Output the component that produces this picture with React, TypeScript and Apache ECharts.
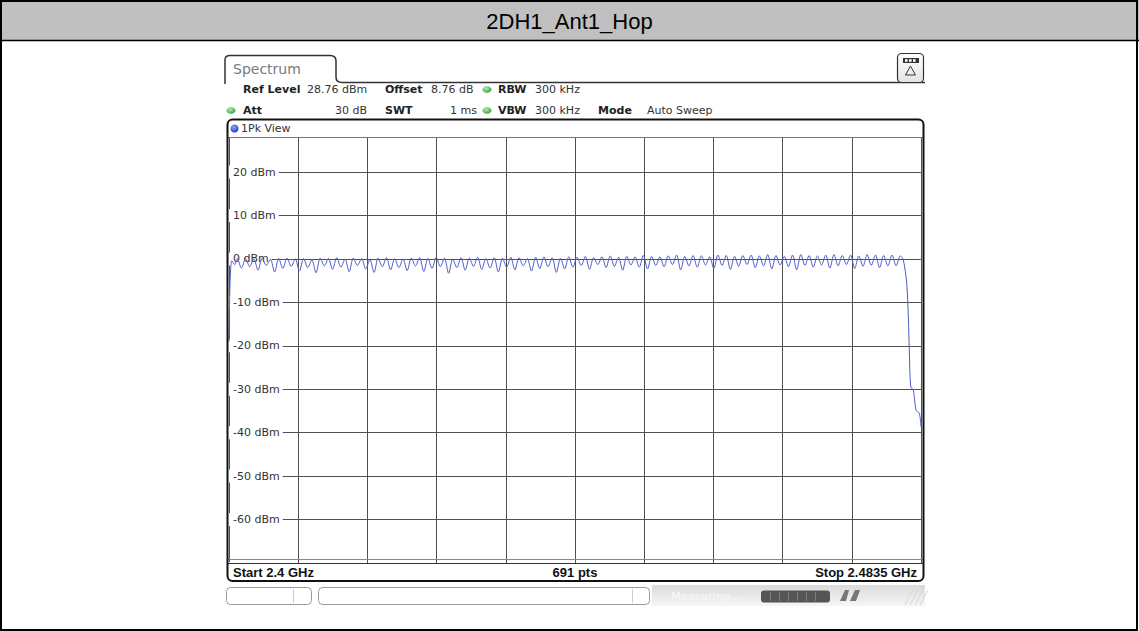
import React, { useEffect, useRef } from "react";
import * as echarts from "echarts";

// ---------- data ----------
const TITLE = "2DH1_Ant1_Hop";
const START_FREQ = 2400; // MHz
const STOP_FREQ = 2483.5; // MHz
const REF_LEVEL = 28.76; // dBm (top of screen)
const Y_MIN = -70; // dBm (bottom grid line)
const Y_STEP = 10;
const Y_LABEL_VALUES = [20, 10, 0, -10, -20, -30, -40, -50, -60];
const X_DIVISIONS = 10;

const INFO_ROW1 = ["Ref Level", "28.76 dBm", "Offset", "8.76 dB", "RBW", "300 kHz"];
const INFO_ROW2 = ["Att", "30 dB", "SWT", "1 ms", "VBW", "300 kHz", "Mode", "Auto Sweep"];
const START_LABEL = "Start 2.4 GHz";
const POINTS_LABEL = "691 pts";
const STOP_LABEL = "Stop 2.4835 GHz";
const VIEW_LABEL = "1Pk View";
const TAB_LABEL = "Spectrum";

// trace: rising edge at band start
const LEAD_IN_FREQ = [2400.0, 2400.12, 2400.35, 2400.7, 2401.0, 2401.5];
const LEAD_IN_DBM = [-19.0, -6.0, -0.4, -1.3, 0.1, -2.1];
// hopping channels 2402 ... 2480 MHz: hump tops
const CHANNEL_FIRST = 2402;
const PEAK_DBM = [
  0.1, 0.0, 0.2, -0.1, 0.1, 0.2, 0.0, 0.1, -0.2, 0.2,
  0.1, 0.3, 0.0, 0.2, 0.1, -0.1, 0.2, 0.3, 0.1, 0.0,
  0.2, 0.3, 0.1, 0.4, 0.2, 0.0, 0.3, 0.2, 0.4, 0.1,
  0.3, 0.2, 0.4, 0.3, 0.1, 0.4, 0.5, 0.3, 0.2, 0.5,
  0.4, 0.6, 0.3, 0.5, 0.7, 0.4, 0.6, 0.5, 0.8, 0.6,
  0.5, 0.7, 0.9, 0.6, 0.8, 0.7, 0.5, 0.9, 0.8, 0.6,
  0.8, 0.9, 0.7, 1.0, 0.8, 0.6, 0.9, 1.0, 0.8, 0.7,
  0.9, 1.0, 0.8, 0.9, 0.7, 1.0, 0.9, 0.8, 0.9,
];
// dips between neighbouring channels (2402.5 ... 2479.5 MHz)
const DIP_DBM = [
  -1.8, -2.6, -1.5, -3.0, -2.2, -1.7, -2.8, -2.0, -3.2, -1.6,
  -2.4, -1.9, -2.9, -1.5, -2.3, -3.1, -1.8, -2.5, -2.0, -2.7,
  -1.6, -2.9, -2.2, -1.8, -3.3, -2.0, -2.6, -1.7, -2.4, -2.1,
  -3.0, -1.9, -2.5, -1.6, -2.8, -2.2, -1.8, -3.1, -2.3, -1.9,
  -1.5, -2.4, -1.3, -2.0, -1.7, -2.6, -1.4, -1.9, -2.3, -1.5,
  -1.8, -1.3, -2.5, -1.6, -1.9, -1.4, -2.2, -1.5, -2.4, -1.7,
  -1.3, -2.0, -1.6, -2.3, -1.4, -1.8, -2.5, -1.5, -1.9, -1.4,
  -2.1, -1.6, -1.3, -2.2, -1.7, -1.5, -2.0, -1.6,
];
// falling edge at band end
const TAIL_FREQ = [2480.5, 2481.0, 2481.36, 2481.77, 2481.97, 2482.09, 2482.26, 2482.57, 2482.9, 2483.29, 2483.5];
const TAIL_DBM = [-1.6, 0.7, -0.2, -5.5, -13.3, -21.0, -29.5, -30.1, -34.8, -35.5, -38.6];

// ---------- shapes ----------
echarts.graphic.registerShape(
  "rsTab",
  echarts.graphic.extendPath(
    "M225,84 L225,60 Q225,55.5 230,55.5 L330,55.5 Q336,55.5 336,61 L336,77 Q336,82.5 342,82.5 L925,82.5",
    {}
  )
);

const DV = '"DejaVu Sans", "Noto Sans", sans-serif';
const LS = '"Liberation Sans", Arial, sans-serif';

function buildTrace(): [number, number][] {
  const t: [number, number][] = [];
  LEAD_IN_FREQ.forEach((f, i) => t.push([f, LEAD_IN_DBM[i]]));
  PEAK_DBM.forEach((p, i) => {
    t.push([CHANNEL_FIRST + i, p]);
    if (i < DIP_DBM.length) t.push([CHANNEL_FIRST + i + 0.5, DIP_DBM[i]]);
  });
  TAIL_FREQ.forEach((f, i) => t.push([f, TAIL_DBM[i]]));
  return t;
}

function txt(text: string, x: number, y: number, opts: any = {}) {
  return {
    type: "text",
    z: opts.z ?? 20,
    style: {
      text,
      x,
      y,
      fill: opts.fill ?? "#222",
      font: opts.font ?? `11px ${DV}`,
      textAlign: opts.align ?? "left",
      verticalAlign: "middle",
    },
  };
}

function dot(cx: number, cy: number, color: string) {
  return {
    type: "ellipse",
    z: 20,
    shape: { cx, cy, rx: 4.5, ry: 3.2 },
    style: {
      fill: {
        type: "radial",
        x: 0.4,
        y: 0.35,
        r: 0.7,
        colorStops: [
          { offset: 0, color: "#b5f0b0" },
          { offset: 1, color: color },
        ],
      },
    },
  };
}

function buildGraphic() {
  const bold = `bold 11px ${DV}`;
  const els: any[] = [];
  // outer frame + title band
  els.push({ type: "rect", z: 1, shape: { x: 0, y: 0, width: 1139, height: 41 }, style: { fill: "#c0c0c0" } });
  els.push({ type: "rect", z: 30, shape: { x: 1, y: 1, width: 1136, height: 629 }, style: { fill: "none", stroke: "#000", lineWidth: 2 } });
  els.push({ type: "line", z: 30, shape: { x1: 0, y1: 40.5, x2: 1139, y2: 40.5 }, style: { stroke: "#000", lineWidth: 1.5 } });
  els.push(txt(TITLE, 569.5, 21, { font: `22px ${LS}`, fill: "#000", align: "center" }));

  // tab
  els.push({ type: "rsTab", z: 20, x: 0, y: 0, style: { fill: "none", stroke: "#333", lineWidth: 1.5 } });
  els.push(txt(TAB_LABEL, 233, 69, { font: `14px ${DV}`, fill: "#7a7a7a" }));

  // top-right icon
  els.push({
    type: "rect", z: 20, shape: { x: 897.5, y: 53.5, width: 26, height: 29, r: 4 },
    style: { fill: { type: "linear", x: 0, y: 0, x2: 0, y2: 1, colorStops: [{ offset: 0, color: "#ffffff" }, { offset: 1, color: "#e4e4e4" }] }, stroke: "#333", lineWidth: 1.2 },
  });
  els.push({ type: "rect", z: 21, shape: { x: 903, y: 58, width: 16, height: 5 }, style: { fill: "#333" } });
  [905, 909, 913].forEach((x) => els.push({ type: "rect", z: 22, shape: { x, y: 59.2, width: 2.6, height: 2.6 }, style: { fill: "#fff" } }));
  els.push({ type: "polygon", z: 21, shape: { points: [[910.5, 66], [905.5, 75], [915.5, 75]] }, style: { fill: "none", stroke: "#333", lineWidth: 1 } });

  // info rows
  const r1 = 89.5, r2 = 110.5;
  els.push(txt(INFO_ROW1[0], 243, r1, { font: bold }));
  els.push(txt(INFO_ROW1[1], 307, r1, { fill: "#333" }));
  els.push(txt(INFO_ROW1[2], 385, r1, { font: bold }));
  els.push(txt(INFO_ROW1[3], 431, r1, { fill: "#333" }));
  els.push(dot(487, r1, "#2e9e35"));
  els.push(txt(INFO_ROW1[4], 498, r1, { font: bold }));
  els.push(txt(INFO_ROW1[5], 535, r1, { fill: "#333" }));

  els.push(dot(231, r2, "#2e9e35"));
  els.push(txt(INFO_ROW2[0], 243, r2, { font: bold }));
  els.push(txt(INFO_ROW2[1], 367, r2, { fill: "#333", align: "right" }));
  els.push(txt(INFO_ROW2[2], 385, r2, { font: bold }));
  els.push(txt(INFO_ROW2[3], 477, r2, { fill: "#333", align: "right" }));
  els.push(dot(487, r2, "#2e9e35"));
  els.push(txt(INFO_ROW2[4], 498, r2, { font: bold }));
  els.push(txt(INFO_ROW2[5], 535, r2, { fill: "#333" }));
  els.push(txt(INFO_ROW2[6], 598, r2, { font: bold }));
  els.push(txt(INFO_ROW2[7], 647, r2, { fill: "#333" }));

  // plot box header
  els.push({ type: "rect", z: 15, shape: { x: 228, y: 120, width: 695, height: 17 }, style: { fill: "#fff" } });
  els.push({ type: "line", z: 16, shape: { x1: 228, y1: 137.5, x2: 923, y2: 137.5 }, style: { stroke: "#777", lineWidth: 1 } });
  els.push({
    type: "circle", z: 20, shape: { cx: 234.5, cy: 128.5, r: 4 },
    style: { fill: { type: "radial", x: 0.4, y: 0.35, r: 0.7, colorStops: [{ offset: 0, color: "#8fa8ff" }, { offset: 1, color: "#1836c8" }] } },
  });
  els.push(txt(VIEW_LABEL, 241, 128.5, { fill: "#333" }));

  // bottom row of plot box
  els.push({ type: "line", z: 16, shape: { x1: 228, y1: 559.5, x2: 923, y2: 559.5 }, style: { stroke: "#888", lineWidth: 1 } });
  els.push({ type: "line", z: 16, shape: { x1: 228, y1: 563.5, x2: 923, y2: 563.5 }, style: { stroke: "#333", lineWidth: 1 } });
  els.push(txt(START_LABEL, 233, 572.5, { font: `bold 13px ${LS}`, fill: "#111" }));
  els.push(txt(POINTS_LABEL, 575, 572.5, { font: `bold 13px ${LS}`, fill: "#111", align: "center" }));
  els.push(txt(STOP_LABEL, 917, 572.5, { font: `bold 13px ${LS}`, fill: "#111", align: "right" }));

  // plot box border
  els.push({ type: "rect", z: 25, shape: { x: 227.5, y: 119.5, width: 696, height: 461.5, r: 5 }, style: { fill: "none", stroke: "#111", lineWidth: 2 } });

  // status bar
  const sb = { fill: "#fff", stroke: "#999", lineWidth: 1 };
  els.push({ type: "rect", z: 20, shape: { x: 226.5, y: 587.5, width: 85, height: 17, r: 4 }, style: sb });
  els.push({ type: "line", z: 21, shape: { x1: 293.5, y1: 589, x2: 293.5, y2: 603 }, style: { stroke: "#ccc" } });
  els.push({ type: "rect", z: 20, shape: { x: 318.5, y: 587.5, width: 331, height: 17, r: 4 }, style: sb });
  els.push({ type: "line", z: 21, shape: { x1: 632.5, y1: 589, x2: 632.5, y2: 603 }, style: { stroke: "#ccc" } });
  els.push({
    type: "rect", z: 19, shape: { x: 652, y: 585, width: 273, height: 21 },
    style: { fill: { type: "linear", x: 0, y: 0, x2: 0, y2: 1, colorStops: [{ offset: 0, color: "#dadada" }, { offset: 1, color: "#f6f6f6" }] } },
  });
  els.push(txt("Measuring...", 671, 596, { font: `bold 10px ${DV}`, fill: "#f4f4f4" }));
  els.push({ type: "rect", z: 20, shape: { x: 761, y: 590.5, width: 69, height: 12, r: 3 }, style: { fill: "#555" } });
  [770, 779, 788, 797, 806, 815].forEach((x) =>
    els.push({ type: "line", z: 21, shape: { x1: x + 0.5, y1: 592, x2: x + 0.5, y2: 601 }, style: { stroke: "#7d7d7d" } })
  );
  els.push({ type: "polygon", z: 20, shape: { points: [[840, 601], [845, 590], [849, 590], [846, 601]] }, style: { fill: "#777" } });
  els.push({ type: "polygon", z: 20, shape: { points: [[850, 601], [855, 590], [860, 590], [856, 601]] }, style: { fill: "#777" } });
  [905, 910, 915, 920].forEach((x) =>
    els.push({ type: "line", z: 20, shape: { x1: x, y1: 605, x2: x + 8, y2: 590 }, style: { stroke: "#d6d6d6" } })
  );
  return els;
}

export default function App() {
  const ref = useRef<HTMLDivElement>(null);
  useEffect(() => {
    document.body.style.margin = "0";
    if (!ref.current) return;
    const chart = echarts.init(ref.current, undefined, { renderer: "svg" });
    chart.setOption({
      animation: false,
      backgroundColor: "#ffffff",
      grid: { left: 229, right: 218, top: 134, bottom: 68, show: false },
      xAxis: [
        { type: "value", min: START_FREQ, max: STOP_FREQ, show: false },
        {
          type: "value", min: 0, max: X_DIVISIONS, interval: 1, position: "top",
          axisLine: { show: false }, axisTick: { show: false }, axisLabel: { show: false },
          splitLine: { show: true, lineStyle: { color: "#505050", width: 1 } },
        },
      ],
      yAxis: {
        type: "value", min: Y_MIN, max: REF_LEVEL, interval: Y_STEP,
        axisLine: { show: false }, axisTick: { show: false },
        splitLine: { show: true, lineStyle: { color: "#505050", width: 1 } },
        axisLabel: {
          inside: true, margin: 0, color: "#333", fontFamily: DV, fontSize: 11,
          backgroundColor: "#fff", padding: [1, 3, 1, 4],
          formatter: (v: number) => (Y_LABEL_VALUES.includes(Math.round(v * 100) / 100) ? `${v} dBm` : ""),
        },
      },
      series: [
        {
          type: "line", xAxisIndex: 0, yAxisIndex: 0, data: buildTrace(),
          symbol: "none", showSymbol: false, smooth: 0.3, z: 3,
          lineStyle: { color: "#4d5ec8", width: 1 },
        },
      ],
      graphic: { elements: buildGraphic() },
    });
    return () => chart.dispose();
  }, []);
  return <div ref={ref} style={{ width: 1139, height: 631 }} />;
}
